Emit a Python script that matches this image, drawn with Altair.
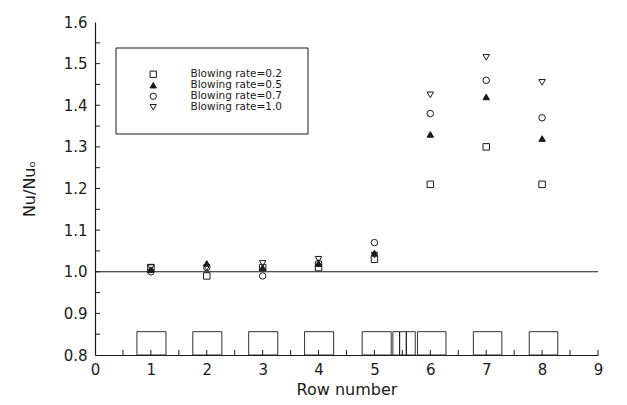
import altair as alt
import pandas as pd

# Heat transfer ratio per row for four blowing rates
rows = [1, 2, 3, 4, 5, 6, 7, 8]
series_names = [
    "Blowing rate=0.2",
    "Blowing rate=0.5",
    "Blowing rate=0.7",
    "Blowing rate=1.0",
]
nu_br02 = [1.01, 0.99, 1.01, 1.01, 1.03, 1.21, 1.30, 1.21]
nu_br05 = [1.005, 1.02, 1.01, 1.02, 1.045, 1.33, 1.42, 1.32]
nu_br07 = [1.00, 1.01, 0.99, 1.02, 1.07, 1.38, 1.46, 1.37]
nu_br10 = [1.01, 1.01, 1.02, 1.03, 1.04, 1.425, 1.515, 1.455]

# Row blocks sketched along the bottom of the plot
block_x0 = [0.75, 1.75, 2.75, 3.75, 4.78, 5.33, 5.45, 5.57, 5.77, 6.77, 7.77]
block_x1 = [1.27, 2.27, 3.27, 4.27, 5.30, 5.45, 5.57, 5.73, 6.28, 7.28, 8.28]
block_top = 0.856

x_ticks = [i * 0.5 for i in range(1, 19)]
y_ticks = [round(0.8 + i * 0.05, 2) for i in range(1, 16)]

W, H = 503, 333
INK = "#1a1a1a"
FONT = "DejaVu Sans"

records = []
for name, vals in zip(series_names, [nu_br02, nu_br05, nu_br07, nu_br10]):
    for r, v in zip(rows, vals):
        records.append({"row": r, "nu": v, "series": name})
pts = pd.DataFrame(records)

xs = alt.Scale(domain=[0, 9], nice=False, zero=False)
ys = alt.Scale(domain=[0.8, 1.6], nice=False, zero=False)

x_axis = alt.Axis(values=list(range(0, 10)), format="d", ticks=False,
                  labelFlush=False, title="Row number",
                  labelPadding=7, titlePadding=4)
y_axis = alt.Axis(values=[round(0.8 + i * 0.1, 1) for i in range(9)],
                  format=".1f", ticks=False, labelFlush=False, title="Nu/Nuₒ",
                  labelPadding=8, titlePadding=26)

legend = alt.Legend(
    title=None, orient="none", legendX=53, legendY=47,
    labelFont=FONT, labelFontSize=10.5, labelColor=INK, labelOffset=32,
    rowPadding=-1, symbolStrokeWidth=1, symbolSize=40, padding=0,
)

shape_scale = alt.Scale(domain=series_names,
                        range=["square", "triangle-up", "circle", "triangle-down"])
fill_scale = alt.Scale(domain=series_names,
                       range=["transparent", INK, "transparent", "transparent"])
stroke_scale = alt.Scale(domain=series_names, range=[INK, INK, INK, INK])

points = alt.Chart(pts).mark_point(size=42, strokeWidth=1, opacity=1).encode(
    x=alt.X("row:Q", scale=xs, axis=x_axis),
    y=alt.Y("nu:Q", scale=ys, axis=y_axis),
    shape=alt.Shape("series:N", sort=series_names, legend=legend, scale=shape_scale),
    fill=alt.Fill("series:N", sort=series_names, legend=legend, scale=fill_scale),
    stroke=alt.Stroke("series:N", sort=series_names, legend=legend, scale=stroke_scale),
)

baseline = alt.Chart(pd.DataFrame({"y": [1.0], "x0": [0.0], "x1": [9.0]})).mark_rule(
    color=INK, strokeWidth=1.1
).encode(x=alt.X("x0:Q", scale=xs), x2="x1:Q", y=alt.Y("y:Q", scale=ys))

blocks = alt.Chart(pd.DataFrame({"x0": block_x0, "x1": block_x1,
                                 "y0": [0.8] * len(block_x0),
                                 "y1": [block_top] * len(block_x0)})).mark_rect(
    fill="transparent", stroke=INK, strokeWidth=0.9
).encode(x=alt.X("x0:Q", scale=xs), x2="x1:Q",
         y=alt.Y("y0:Q", scale=ys), y2="y1:Q")

xtick_marks = alt.Chart(pd.DataFrame({"t": x_ticks})).mark_rule(
    color=INK, strokeWidth=1
).encode(x=alt.X("t:Q", scale=xs), y=alt.value(H), y2=alt.value(H - 5))

ytick_marks = alt.Chart(pd.DataFrame({"t": y_ticks})).mark_rule(
    color=INK, strokeWidth=1
).encode(y=alt.Y("t:Q", scale=ys), x=alt.value(0), x2=alt.value(5))

frame = alt.Chart(pd.DataFrame({"k": [0]})).mark_rect(
    fill="transparent", stroke=INK, strokeWidth=1
).encode(x=alt.value(21), x2=alt.value(213), y=alt.value(26), y2=alt.value(112))

chart = alt.layer(baseline, blocks, xtick_marks, ytick_marks, frame, points).properties(
    width=W, height=H,
    autosize=alt.AutoSizeParams(type="none"),
    padding={"left": 95, "top": 22, "right": 29, "bottom": 50},
    background="white",
).configure_view(stroke=None).configure_axis(
    domainColor=INK, domainWidth=1.2, grid=False,
    labelFont=FONT, labelFontSize=15, labelColor=INK,
    titleFont=FONT, titleFontSize=16, titleFontWeight="normal", titleColor=INK,
)

chart.save("out.html", embed_options={"renderer": "svg", "actions": False})
